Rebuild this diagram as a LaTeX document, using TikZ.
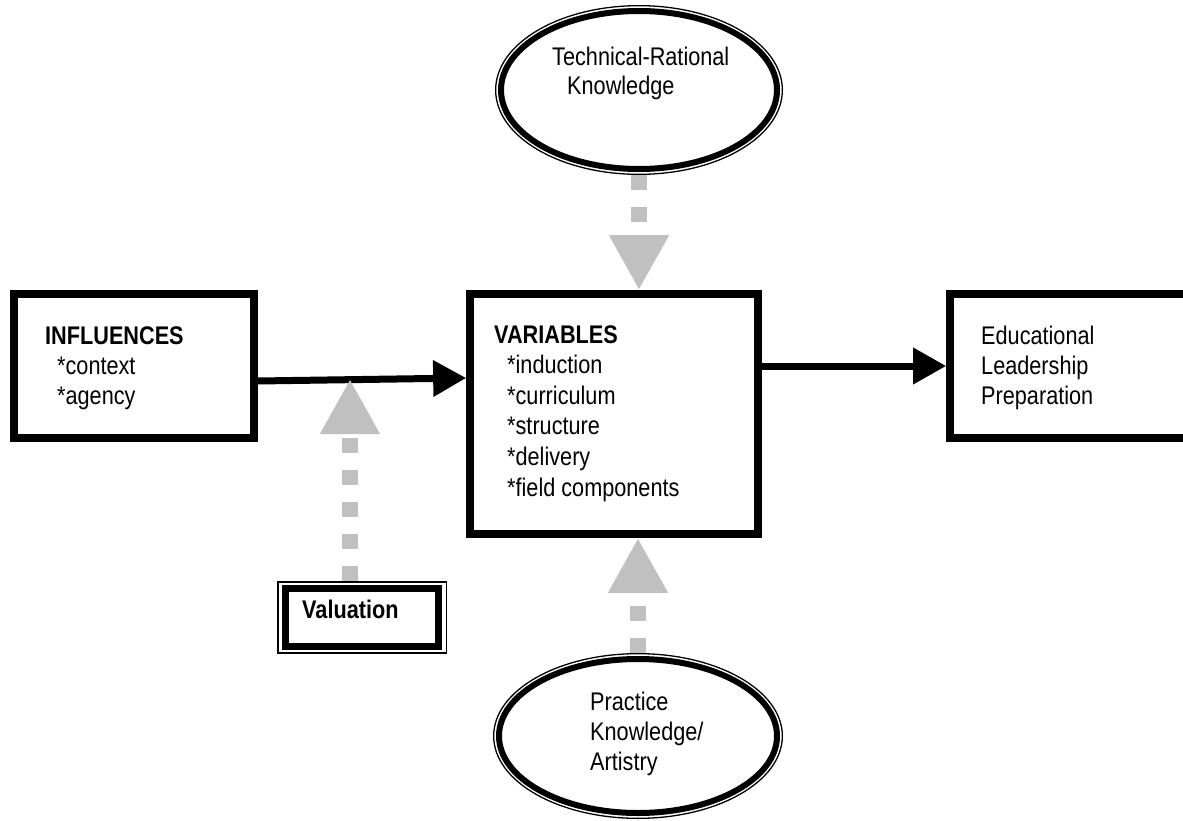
\documentclass[tikz,border=0pt]{standalone}
\usepackage{fontspec}
\setmainfont{Liberation Sans}[FakeStretch=0.85]
\usetikzlibrary{arrows.meta,shapes.geometric}
\definecolor{arrowgray}{HTML}{C0C0C0}
\begin{document}
\begin{tikzpicture}[x=1pt,y=-1pt,
  box/.style={draw, line width=7.7pt, rectangle, inner sep=0pt},
  ringbox/.style={draw, line width=1.5pt, rectangle, inner sep=0pt},
  ellthick/.style={draw, line width=6pt, ellipse, inner sep=0pt},
  ellring/.style={draw, line width=1.3pt, ellipse, inner sep=0pt},
  txt/.style={inner sep=0pt, anchor=base west, align=left, font=\fontsize{25.5}{30}\selectfont},
  blackarrow/.style={draw=black, line width=7pt, -{Triangle[length=33pt,width=35pt]}},
  grayarrow/.style={draw=arrowgray, line width=16pt, dash pattern=on 15pt off 17pt, -{Triangle[length=55pt,width=56pt]}}
]
\useasboundingbox (0,0) rectangle (1183,821);

% boxes
\node[box, minimum width=240pt, minimum height=144pt] (infl) at (134,366) {};
\node[box, minimum width=288pt, minimum height=240pt] (var) at (614,414) {};
\node[box, minimum width=260pt, minimum height=144pt] (edu) at (1080,366) {};
\node[box, line width=7pt, minimum width=153pt, minimum height=57.3pt] (val) at (362.2,617.35) {};
\node[ringbox, minimum width=168.5pt, minimum height=71.2pt] (valring) at (val) {};

% ellipses
\node[ellthick, minimum width=276pt, minimum height=158pt] (tech) at (639,90) {};
\node[ellring, minimum width=286.7pt, minimum height=168.7pt] (techring) at (tech) {};
\node[ellthick, minimum width=278pt, minimum height=154pt] (prac) at (638,736) {};
\node[ellring, minimum width=288.7pt, minimum height=164.7pt] (pracring) at (prac) {};

% texts (anchored at the baseline of the last line)
\node[txt] (infltext) at (45,404) {\textbf{INFLUENCES}\\\hspace*{12pt}*context\\\hspace*{12pt}*agency};
\node[txt, font=\fontsize{25.5}{30.6}\selectfont] (vartext) at (494,496) {\textbf{VARIABLES}\\\hspace*{13pt}*induction\\\hspace*{13pt}*curriculum\\\hspace*{13pt}*structure\\\hspace*{13pt}*delivery\\\hspace*{13pt}*field components};
\node[txt] (edutext) at (981,404) {Educational\\Leadership\\Preparation};
\node[txt, font=\fontsize{25.5}{29}\selectfont] (techtext) at (552,95) {Technical-Rational\\\hspace*{15pt}Knowledge};
\node[txt] (practext) at (590,770) {Practice\\Knowledge/\\Artistry};
\node[txt] (valtext) at (302,618) {\textbf{Valuation}};

% connectors
\draw[blackarrow] ([yshift=-15pt]infl.east) -- ([yshift=36pt]var.west);
\draw[blackarrow] ([yshift=48pt]var.east) -- (edu.west);
\coordinate (valtip) at (350,379);
\draw[grayarrow] (valring.north -| valtip) -- (valtip);
\draw[grayarrow] (techring.south) -- (techring.south |- var.north);
\draw[grayarrow] (pracring.north) -- (pracring.north |- var.south);
\end{tikzpicture}
\end{document}
